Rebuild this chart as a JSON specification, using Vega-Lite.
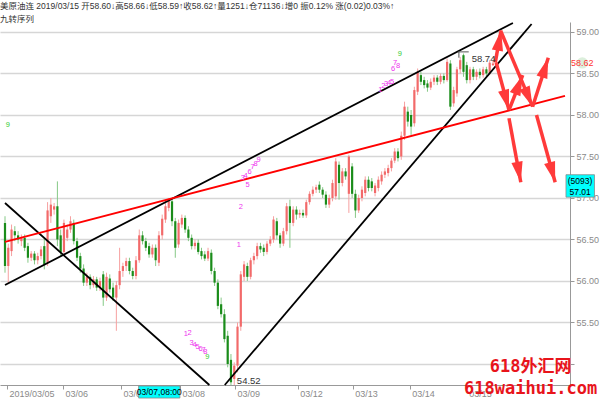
{
  "$schema": "https://vega.github.io/schema/vega-lite/v6.json",
  "width": 570,
  "height": 363,
  "autosize": {"type": "none"},
  "padding": {"left": 0, "top": 22, "right": 30, "bottom": 15},
  "background": "white",
  "title": {
    "text": "美原油连 2019/03/15 开58.60↓高58.66↓低58.59↑收58.62↑量1251↓仓71136↓增0 振0.12% 涨(0.02)0.03%↑",
    "subtitle": "九转序列",
    "anchor": "start",
    "frame": "group",
    "offset": -1,
    "fontSize": 8.5,
    "fontWeight": "normal",
    "color": "#333333",
    "font": "Liberation Sans, Noto Sans CJK SC",
    "subtitleFont": "Liberation Sans, Noto Sans CJK SC",
    "subtitleFontSize": 8.5,
    "subtitleColor": "#333333",
    "subtitlePadding": 4
  },
  "config": {
    "view": {"stroke": null},
    "text": {"font": "Liberation Sans, Noto Sans CJK SC"}
  },
  "resolve": {"scale": {"color": "independent"}},
  "datasets": {
    "candles": [
      {"i":0,"o":56.70,"h":56.78,"l":56.10,"c":56.18},
      {"i":1,"o":56.18,"h":56.45,"l":55.97,"c":56.40},
      {"i":2,"o":56.36,"h":56.68,"l":56.30,"c":56.62},
      {"i":3,"o":56.60,"h":56.66,"l":56.48,"c":56.55},
      {"i":4,"o":56.55,"h":56.60,"l":56.45,"c":56.50},
      {"i":5,"o":56.48,"h":56.56,"l":56.42,"c":56.52},
      {"i":6,"o":56.52,"h":56.56,"l":56.36,"c":56.40},
      {"i":7,"o":56.42,"h":56.46,"l":56.22,"c":56.28},
      {"i":8,"o":56.28,"h":56.36,"l":56.24,"c":56.33},
      {"i":9,"o":56.33,"h":56.36,"l":56.20,"c":56.25},
      {"i":10,"o":56.25,"h":56.34,"l":56.20,"c":56.30},
      {"i":11,"o":56.30,"h":56.42,"l":56.26,"c":56.38},
      {"i":12,"o":56.42,"h":56.52,"l":56.14,"c":56.20},
      {"i":13,"o":56.22,"h":56.95,"l":56.18,"c":56.85},
      {"i":14,"o":56.78,"h":57.00,"l":56.70,"c":56.92},
      {"i":15,"o":56.86,"h":56.94,"l":56.80,"c":56.90},
      {"i":16,"o":56.90,"h":57.20,"l":56.42,"c":56.50},
      {"i":17,"o":56.55,"h":56.62,"l":56.30,"c":56.35},
      {"i":18,"o":56.35,"h":56.74,"l":56.32,"c":56.70},
      {"i":19,"o":56.52,"h":56.68,"l":56.48,"c":56.62},
      {"i":20,"o":56.62,"h":56.78,"l":56.58,"c":56.72},
      {"i":21,"o":56.70,"h":56.74,"l":56.44,"c":56.48},
      {"i":22,"o":56.48,"h":56.52,"l":56.24,"c":56.28},
      {"i":23,"o":56.30,"h":56.34,"l":56.10,"c":56.15},
      {"i":24,"o":56.15,"h":56.20,"l":55.94,"c":55.98},
      {"i":25,"o":55.98,"h":56.10,"l":55.94,"c":56.05},
      {"i":26,"o":56.05,"h":56.08,"l":55.90,"c":55.95},
      {"i":27,"o":55.95,"h":56.06,"l":55.92,"c":56.02},
      {"i":28,"o":56.02,"h":56.05,"l":55.88,"c":55.92},
      {"i":29,"o":55.92,"h":56.04,"l":55.88,"c":56.00},
      {"i":30,"o":56.08,"h":56.12,"l":55.70,"c":55.80},
      {"i":31,"o":55.80,"h":56.10,"l":55.76,"c":56.05},
      {"i":32,"o":56.03,"h":56.08,"l":55.86,"c":55.90},
      {"i":33,"o":55.92,"h":55.98,"l":55.76,"c":55.80},
      {"i":34,"o":55.80,"h":56.00,"l":55.40,"c":55.95},
      {"i":35,"o":55.95,"h":56.40,"l":55.90,"c":56.12},
      {"i":36,"o":56.12,"h":56.22,"l":56.05,"c":56.18},
      {"i":37,"o":56.18,"h":56.28,"l":56.12,"c":56.24},
      {"i":38,"o":56.24,"h":56.28,"l":56.08,"c":56.12},
      {"i":39,"o":56.12,"h":56.16,"l":56.02,"c":56.06},
      {"i":40,"o":56.06,"h":56.30,"l":56.02,"c":56.25},
      {"i":41,"o":56.25,"h":56.62,"l":56.22,"c":56.55},
      {"i":42,"o":56.55,"h":56.60,"l":56.44,"c":56.48},
      {"i":43,"o":56.48,"h":56.52,"l":56.36,"c":56.40},
      {"i":44,"o":56.42,"h":56.46,"l":56.28,"c":56.32},
      {"i":45,"o":56.32,"h":56.44,"l":56.28,"c":56.40},
      {"i":46,"o":56.40,"h":56.44,"l":56.18,"c":56.25},
      {"i":47,"o":56.22,"h":56.60,"l":56.18,"c":56.55},
      {"i":48,"o":56.55,"h":56.80,"l":56.50,"c":56.75},
      {"i":49,"o":56.74,"h":56.94,"l":56.70,"c":56.90},
      {"i":50,"o":56.88,"h":57.00,"l":56.84,"c":56.97},
      {"i":51,"o":56.96,"h":56.99,"l":56.66,"c":56.72},
      {"i":52,"o":56.72,"h":56.76,"l":56.28,"c":56.40},
      {"i":53,"o":56.44,"h":56.74,"l":56.40,"c":56.70},
      {"i":54,"o":56.68,"h":56.80,"l":56.64,"c":56.76},
      {"i":55,"o":56.76,"h":56.79,"l":56.58,"c":56.62},
      {"i":56,"o":56.62,"h":56.66,"l":56.48,"c":56.52},
      {"i":57,"o":56.52,"h":56.56,"l":56.38,"c":56.42},
      {"i":58,"o":56.42,"h":56.50,"l":56.38,"c":56.46},
      {"i":59,"o":56.46,"h":56.50,"l":56.32,"c":56.35},
      {"i":60,"o":56.36,"h":56.40,"l":56.26,"c":56.30},
      {"i":61,"o":56.32,"h":56.36,"l":56.24,"c":56.27},
      {"i":62,"o":56.27,"h":56.40,"l":56.24,"c":56.36},
      {"i":63,"o":56.34,"h":56.38,"l":56.08,"c":56.12},
      {"i":64,"o":56.12,"h":56.16,"l":55.94,"c":55.98},
      {"i":65,"o":55.98,"h":56.02,"l":55.66,"c":55.70},
      {"i":66,"o":55.72,"h":55.80,"l":55.56,"c":55.60},
      {"i":67,"o":55.60,"h":55.66,"l":55.26,"c":55.30},
      {"i":68,"o":55.34,"h":55.40,"l":54.96,"c":55.00},
      {"i":69,"o":55.05,"h":55.12,"l":54.52,"c":54.78},
      {"i":70,"o":54.82,"h":55.02,"l":54.52,"c":54.98},
      {"i":71,"o":54.98,"h":55.50,"l":54.90,"c":55.45},
      {"i":72,"o":55.45,"h":56.12,"l":55.40,"c":56.08},
      {"i":73,"o":56.05,"h":56.24,"l":56.00,"c":56.20},
      {"i":74,"o":56.18,"h":56.22,"l":56.00,"c":56.05},
      {"i":75,"o":56.05,"h":56.28,"l":56.02,"c":56.25},
      {"i":76,"o":56.25,"h":56.34,"l":56.20,"c":56.30},
      {"i":77,"o":56.30,"h":56.46,"l":56.26,"c":56.42},
      {"i":78,"o":56.42,"h":56.46,"l":56.34,"c":56.38},
      {"i":79,"o":56.40,"h":56.44,"l":56.30,"c":56.35},
      {"i":80,"o":56.35,"h":56.48,"l":56.32,"c":56.45},
      {"i":81,"o":56.45,"h":56.54,"l":56.42,"c":56.50},
      {"i":82,"o":56.50,"h":56.78,"l":56.46,"c":56.74},
      {"i":83,"o":56.72,"h":56.76,"l":56.50,"c":56.55},
      {"i":84,"o":56.55,"h":56.58,"l":56.40,"c":56.45},
      {"i":85,"o":56.45,"h":56.64,"l":56.42,"c":56.60},
      {"i":86,"o":56.60,"h":56.94,"l":56.56,"c":56.90},
      {"i":87,"o":56.90,"h":56.98,"l":56.40,"c":56.70},
      {"i":88,"o":56.70,"h":56.90,"l":56.66,"c":56.86},
      {"i":89,"o":56.86,"h":56.90,"l":56.74,"c":56.80},
      {"i":90,"o":56.80,"h":56.86,"l":56.76,"c":56.82},
      {"i":91,"o":56.82,"h":56.86,"l":56.76,"c":56.79},
      {"i":92,"o":56.79,"h":56.98,"l":56.76,"c":56.95},
      {"i":93,"o":56.95,"h":57.08,"l":56.92,"c":57.05},
      {"i":94,"o":57.05,"h":57.14,"l":57.02,"c":57.10},
      {"i":95,"o":57.10,"h":57.16,"l":57.06,"c":57.13},
      {"i":96,"o":57.16,"h":57.20,"l":57.06,"c":57.10},
      {"i":97,"o":57.10,"h":57.13,"l":57.00,"c":57.04},
      {"i":98,"o":57.04,"h":57.08,"l":56.88,"c":56.92},
      {"i":99,"o":56.92,"h":57.04,"l":56.88,"c":57.00},
      {"i":100,"o":57.00,"h":57.22,"l":56.96,"c":57.18},
      {"i":101,"o":57.02,"h":57.48,"l":56.98,"c":57.44},
      {"i":102,"o":57.40,"h":57.44,"l":56.98,"c":57.18},
      {"i":103,"o":57.18,"h":57.36,"l":57.14,"c":57.32},
      {"i":104,"o":57.32,"h":57.36,"l":57.22,"c":57.26},
      {"i":105,"o":57.05,"h":57.52,"l":56.82,"c":57.50},
      {"i":106,"o":57.38,"h":57.42,"l":57.00,"c":57.05},
      {"i":107,"o":57.05,"h":57.10,"l":56.76,"c":56.85},
      {"i":108,"o":56.85,"h":57.04,"l":56.82,"c":57.00},
      {"i":109,"o":57.00,"h":57.14,"l":56.96,"c":57.10},
      {"i":110,"o":57.06,"h":57.26,"l":57.02,"c":57.22},
      {"i":111,"o":57.22,"h":57.26,"l":57.08,"c":57.12},
      {"i":112,"o":57.20,"h":57.24,"l":57.08,"c":57.12},
      {"i":113,"o":57.06,"h":57.18,"l":57.02,"c":57.15},
      {"i":114,"o":57.12,"h":57.26,"l":57.08,"c":57.22},
      {"i":115,"o":57.20,"h":57.32,"l":57.16,"c":57.28},
      {"i":116,"o":57.28,"h":57.36,"l":57.24,"c":57.32},
      {"i":117,"o":57.30,"h":57.40,"l":57.26,"c":57.36},
      {"i":118,"o":57.36,"h":57.48,"l":57.32,"c":57.45},
      {"i":119,"o":57.45,"h":57.60,"l":57.42,"c":57.56},
      {"i":120,"o":57.56,"h":57.60,"l":57.44,"c":57.48},
      {"i":121,"o":57.50,"h":57.80,"l":57.46,"c":57.75},
      {"i":122,"o":57.75,"h":58.16,"l":57.70,"c":58.10},
      {"i":123,"o":58.04,"h":58.10,"l":57.86,"c":57.92},
      {"i":124,"o":58.00,"h":58.06,"l":57.76,"c":57.86},
      {"i":125,"o":57.90,"h":58.34,"l":57.86,"c":58.30},
      {"i":126,"o":58.28,"h":58.56,"l":58.24,"c":58.52},
      {"i":127,"o":58.48,"h":58.52,"l":58.36,"c":58.40},
      {"i":128,"o":58.42,"h":58.46,"l":58.32,"c":58.36},
      {"i":129,"o":58.38,"h":58.42,"l":58.28,"c":58.33},
      {"i":130,"o":58.33,"h":58.44,"l":58.30,"c":58.40},
      {"i":131,"o":58.40,"h":58.48,"l":58.36,"c":58.45},
      {"i":132,"o":58.45,"h":58.48,"l":58.36,"c":58.40},
      {"i":133,"o":58.40,"h":58.50,"l":58.37,"c":58.47},
      {"i":134,"o":58.47,"h":58.50,"l":58.38,"c":58.42},
      {"i":135,"o":58.42,"h":58.68,"l":58.40,"c":58.64},
      {"i":136,"o":58.62,"h":58.66,"l":58.06,"c":58.10},
      {"i":137,"o":58.14,"h":58.34,"l":58.10,"c":58.30},
      {"i":138,"o":58.26,"h":58.58,"l":58.22,"c":58.55},
      {"i":139,"o":58.55,"h":58.70,"l":58.50,"c":58.66},
      {"i":140,"o":58.72,"h":58.74,"l":58.46,"c":58.52},
      {"i":141,"o":58.60,"h":58.64,"l":58.38,"c":58.42},
      {"i":142,"o":58.42,"h":58.58,"l":58.38,"c":58.55},
      {"i":143,"o":58.55,"h":58.58,"l":58.42,"c":58.46},
      {"i":144,"o":58.46,"h":58.55,"l":58.42,"c":58.52},
      {"i":145,"o":58.52,"h":58.56,"l":58.44,"c":58.48},
      {"i":146,"o":58.48,"h":58.58,"l":58.45,"c":58.55},
      {"i":147,"o":58.55,"h":58.58,"l":58.46,"c":58.50},
      {"i":148,"o":58.50,"h":58.66,"l":58.48,"c":58.63},
      {"i":149,"o":58.60,"h":58.66,"l":58.59,"c":58.62}
    ],
    "lines": [
      {"i1":0,"p1":56.94,"i2":62.4,"p2":54.747,"k":"b"},
      {"i1":0,"p1":55.952,"i2":155.1,"p2":59.108,"k":"b"},
      {"i1":67.1,"p1":54.747,"i2":160.8,"p2":59.096,"k":"b"},
      {"i1":0,"p1":56.47,"i2":171,"p2":58.23,"k":"r"}
    ],
    "arrows": [
      {"i1":149.7,"p1":58.63,"i2":151.5,"p2":59.02},
      {"i1":150.0,"p1":58.63,"i2":153.9,"p2":58.06},
      {"i1":153.9,"p1":58.06,"i2":158.1,"p2":58.48},
      {"i1":151.5,"p1":59.00,"i2":161.1,"p2":58.10},
      {"i1":161.1,"p1":58.10,"i2":165.9,"p2":58.69},
      {"i1":153.9,"p1":57.96,"i2":157.5,"p2":57.19},
      {"i1":162.3,"p1":58.00,"i2":168.0,"p2":57.19}
    ],
    "marks": [
      {"i1":138.3,"p1":58.76,"i2":141.6,"p2":58.76},
      {"i1":138.6,"p1":58.76,"i2":138.6,"p2":58.69}
    ],
    "seq": [
      {"i":0.9,"p":57.88,"t":"9","k":"g"},
      {"i":55.2,"p":55.36,"t":"1","k":"n"},
      {"i":56.4,"p":55.37,"t":"2","k":"n"},
      {"i":57.0,"p":55.25,"t":"3","k":"n"},
      {"i":57.9,"p":55.23,"t":"4","k":"n"},
      {"i":58.8,"p":55.20,"t":"5","k":"n"},
      {"i":59.7,"p":55.18,"t":"6","k":"n"},
      {"i":60.6,"p":55.17,"t":"7","k":"n"},
      {"i":61.2,"p":55.15,"t":"8","k":"n"},
      {"i":61.8,"p":55.08,"t":"9","k":"g"},
      {"i":71.4,"p":56.43,"t":"1","k":"n"},
      {"i":72.0,"p":56.89,"t":"2","k":"n"},
      {"i":72.6,"p":57.24,"t":"3","k":"n"},
      {"i":73.5,"p":57.27,"t":"4","k":"n"},
      {"i":74.1,"p":57.16,"t":"5","k":"n"},
      {"i":74.7,"p":57.31,"t":"6","k":"n"},
      {"i":75.6,"p":57.37,"t":"7","k":"n"},
      {"i":76.5,"p":57.41,"t":"8","k":"n"},
      {"i":77.4,"p":57.46,"t":"9","k":"n"},
      {"i":114.6,"p":58.30,"t":"1","k":"n"},
      {"i":115.5,"p":58.35,"t":"2","k":"n"},
      {"i":116.4,"p":58.37,"t":"3","k":"n"},
      {"i":117.3,"p":58.39,"t":"4","k":"n"},
      {"i":118.2,"p":58.40,"t":"5","k":"n"},
      {"i":118.5,"p":58.55,"t":"6","k":"n"},
      {"i":119.1,"p":58.63,"t":"7","k":"n"},
      {"i":120.0,"p":58.59,"t":"8","k":"n"},
      {"i":120.6,"p":58.73,"t":"9","k":"g"}
    ],
    "notes": [
      {"i":142.5,"p":58.68,"t":"58.74"},
      {"i":70.8,"p":54.80,"t":"54.52"}
    ],
    "boxes": [
      {"i1":40.8,"p1":54.735,"i2":53.4,"p2":54.59},
      {"i1":171.3,"p1":57.28,"i2":180.0,"p2":57.01}
    ],
    "boxtext": [
      {"i":47.1,"p":54.66,"t":"03/07,08:00"},
      {"i":175.6,"p":57.205,"t":"(5093)"},
      {"i":175.6,"p":57.07,"t":"57.01"}
    ],
    "last": [
      {"i":176.3,"p":58.627,"t":"58.62"}
    ],
    "wm": [
      {"i":160.5,"p":54.96,"t":"618外汇网"},
      {"i":160.5,"p":54.70,"t":"618waihui.com"}
    ]
  },
  "layer": [
    {
      "data": {"name": "candles"},
      "mark": {"type": "rule", "strokeWidth": 1, "clip": true},
      "encoding": {
        "x": {"field": "i", "type": "quantitative", "title": null, "scale": {"domain": [0, 171], "nice": false, "zero": false},
          "axis": {"orient": "bottom", "title": null, "grid": false,
            "values": [0.6, 17.7, 35.4, 53.4, 70.2, 89.4, 106.2, 123.6, 141],
            "labelExpr": "datum.value < 1 ? '2019/03/05' : datum.value < 20 ? '03/06' : datum.value < 40 ? '03/07' : datum.value < 60 ? '03/08' : datum.value < 80 ? '03/09' : datum.value < 95 ? '03/12' : datum.value < 115 ? '03/13' : datum.value < 130 ? '03/14' : '03/15'",
            "labelAlign": "left", "labelOffset": 2, "labelColor": "#8a8a8a", "labelFontSize": 9,
            "labelFont": "Liberation Sans", "labelPadding": 0, "labelOverlap": false, "labelFlush": false,
            "tickSize": 4, "tickColor": "#999999", "domainColor": "#999999"}},
        "y": {"field": "l", "type": "quantitative", "title": null, "scale": {"domain": [54.747, 59.12], "nice": false, "zero": false},
          "axis": {"orient": "right", "title": null, "grid": true, "gridColor": "#d6d6d6", "gridWidth": 1.5,
            "values": [55, 55.5, 56, 56.5, 57, 57.5, 58, 58.5, 59],
            "labelExpr": "datum.value == 55 ? '' : format(datum.value, '.2f')",
            "labelColor": "#8a8a8a", "labelFontSize": 9, "labelFont": "Liberation Sans",
            "labelPadding": 2, "tickSize": 4, "tickColor": "#999999", "domainColor": "#999999"}},
        "y2": {"field": "h"},
        "color": {"condition": {"test": "datum.c >= datum.o", "value": "#f6a0a0"}, "value": "#86c986"}
      }
    },
    {
      "data": {"name": "candles"},
      "mark": {"type": "bar", "size": 2.2, "clip": true},
      "encoding": {
        "x": {"field": "i", "type": "quantitative", "title": null},
        "y": {"field": "o", "type": "quantitative", "title": null},
        "y2": {"field": "c"},
        "color": {"condition": {"test": "datum.c >= datum.o", "value": "#f26a6a"}, "value": "#1a8c1a"}
      }
    },
    {
      "data": {"name": "lines"},
      "transform": [{"filter": "datum.k == 'b'"}],
      "mark": {"type": "rule", "strokeWidth": 1.8, "color": "#000000"},
      "encoding": {
        "x": {"field": "i1", "type": "quantitative", "title": null},
        "y": {"field": "p1", "type": "quantitative", "title": null},
        "x2": {"field": "i2"},
        "y2": {"field": "p2"}
      }
    },
    {
      "data": {"name": "lines"},
      "transform": [{"filter": "datum.k == 'r'"}],
      "mark": {"type": "rule", "strokeWidth": 1.8, "color": "#ff0000"},
      "encoding": {
        "x": {"field": "i1", "type": "quantitative", "title": null},
        "y": {"field": "p1", "type": "quantitative", "title": null},
        "x2": {"field": "i2"},
        "y2": {"field": "p2"}
      }
    },
    {
      "data": {"name": "arrows"},
      "mark": {"type": "rule", "strokeWidth": 3.5, "color": "#ff3a3a"},
      "encoding": {
        "x": {"field": "i1", "type": "quantitative", "title": null},
        "y": {"field": "p1", "type": "quantitative", "title": null},
        "x2": {"field": "i2"},
        "y2": {"field": "p2"}
      }
    },
    {
      "data": {"name": "arrows"},
      "transform": [
        {"calculate": "atan2((datum.i2 - datum.i1) * 3.3333, (datum.p2 - datum.p1) * 83) * 180 / PI", "as": "ang"}
      ],
      "mark": {"type": "point", "shape": "M0,0L0.8,2.9L-0.8,2.9Z", "filled": true, "opacity": 1, "color": "#ff3a3a", "size": 200},
      "encoding": {
        "x": {"field": "i2", "type": "quantitative", "title": null},
        "y": {"field": "p2", "type": "quantitative", "title": null},
        "angle": {"field": "ang", "type": "quantitative", "scale": null}
      }
    },
    {
      "data": {"name": "marks"},
      "mark": {"type": "rule", "strokeWidth": 1, "color": "#555555"},
      "encoding": {
        "x": {"field": "i1", "type": "quantitative", "title": null},
        "y": {"field": "p1", "type": "quantitative", "title": null},
        "x2": {"field": "i2"},
        "y2": {"field": "p2"}
      }
    },
    {
      "data": {"name": "seq"},
      "transform": [{"filter": "datum.k == 'n'"}],
      "mark": {"type": "text", "fontSize": 7.5, "font": "Liberation Sans", "color": "#ee33ee"},
      "encoding": {
        "x": {"field": "i", "type": "quantitative", "title": null},
        "y": {"field": "p", "type": "quantitative", "title": null},
        "text": {"field": "t"}
      }
    },
    {
      "data": {"name": "seq"},
      "transform": [{"filter": "datum.k == 'g'"}],
      "mark": {"type": "text", "fontSize": 7.5, "font": "Liberation Sans", "color": "#33cc33"},
      "encoding": {
        "x": {"field": "i", "type": "quantitative", "title": null},
        "y": {"field": "p", "type": "quantitative", "title": null},
        "text": {"field": "t"}
      }
    },
    {
      "data": {"name": "notes"},
      "mark": {"type": "text", "fontSize": 9.5, "align": "left", "color": "#333333", "font": "Liberation Sans"},
      "encoding": {
        "x": {"field": "i", "type": "quantitative", "title": null},
        "y": {"field": "p", "type": "quantitative", "title": null},
        "text": {"field": "t"}
      }
    },
    {
      "data": {"name": "boxes"},
      "mark": {"type": "rect", "fill": "#00ffff", "stroke": "#888888", "strokeWidth": 0.8},
      "encoding": {
        "x": {"field": "i1", "type": "quantitative", "title": null},
        "y": {"field": "p1", "type": "quantitative", "title": null},
        "x2": {"field": "i2"},
        "y2": {"field": "p2"}
      }
    },
    {
      "data": {"name": "boxtext"},
      "mark": {"type": "text", "fontSize": 8.5, "color": "#000000", "font": "Liberation Sans"},
      "encoding": {
        "x": {"field": "i", "type": "quantitative", "title": null},
        "y": {"field": "p", "type": "quantitative", "title": null},
        "text": {"field": "t"}
      }
    },
    {
      "data": {"name": "last"},
      "mark": {"type": "point", "filled": true, "color": "#dcefdc", "opacity": 1, "size": 130, "dx": -12},
      "encoding": {
        "x": {"field": "i", "type": "quantitative", "title": null},
        "y": {"field": "p", "type": "quantitative", "title": null}
      }
    },
    {
      "data": {"name": "last"},
      "mark": {"type": "text", "fontSize": 9, "color": "#ff3333", "font": "Liberation Sans"},
      "encoding": {
        "x": {"field": "i", "type": "quantitative", "title": null},
        "y": {"field": "p", "type": "quantitative", "title": null},
        "text": {"field": "t"}
      }
    },
    {
      "data": {"name": "wm"},
      "mark": {"type": "text", "fontSize": 17, "fontWeight": "bold", "color": "#e8141b", "font": "DejaVu Sans Mono, Noto Sans CJK SC"},
      "encoding": {
        "x": {"field": "i", "type": "quantitative", "title": null},
        "y": {"field": "p", "type": "quantitative", "title": null},
        "text": {"field": "t"}
      }
    }
  ]
}
